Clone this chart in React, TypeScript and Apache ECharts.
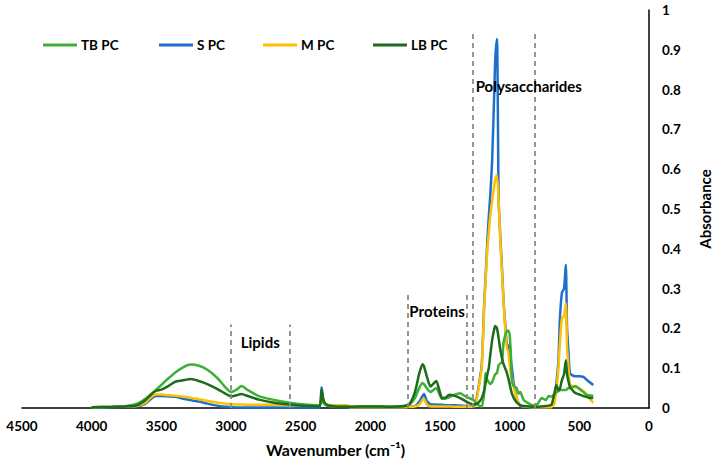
import React, { useEffect, useRef } from "react";
import * as echarts from "echarts";

const wavenumbers = [
  4000, 3850, 3750, 3680, 3620, 3570, 3540, 3500, 3450, 3400, 3350, 3290, 3230, 3170, 3100, 3040, 3000, 2960,
  2925, 2880, 2800, 2700, 2580, 2450, 2365, 2350, 2335, 2310, 2250, 2165, 2150, 2000, 1850, 1760, 1720, 1680,
  1650, 1626, 1615, 1595, 1569, 1545, 1526, 1505, 1485, 1460, 1434, 1400, 1355, 1320, 1290, 1260, 1240, 1220,
  1200, 1182, 1174, 1160, 1150, 1140, 1126, 1110, 1103, 1091, 1079, 1067, 1055, 1044, 1030, 1020, 1010, 1000,
  991, 984, 970, 950, 936, 924, 900, 865, 830, 800, 770, 740, 720, 700, 680, 665, 650, 640, 625, 610, 597, 588,
  580, 568, 550, 530, 500, 470, 450, 430, 400,
];

const tbPC = [
  0.002, 0.003, 0.005, 0.01, 0.022, 0.036, 0.045, 0.058, 0.074, 0.089, 0.101, 0.109, 0.106, 0.096, 0.076, 0.052,
  0.04, 0.046, 0.055, 0.045, 0.03, 0.021, 0.013, 0.008, 0.006, 0.022, 0.012, 0.006, 0.004, 0.003, 0.003, 0.004,
  0.003, 0.004, 0.008, 0.025, 0.05, 0.063, 0.06, 0.05, 0.04, 0.046, 0.05, 0.035, 0.023, 0.024, 0.027, 0.033,
  0.037, 0.03, 0.025, 0.02, 0.012, 0.006, 0.004, 0.04, 0.088, 0.07, 0.065, 0.06, 0.065, 0.08, 0.085, 0.088,
  0.108, 0.112, 0.115, 0.164, 0.185, 0.193, 0.195, 0.185, 0.132, 0.068, 0.055, 0.05, 0.036, 0.04, 0.02, 0.012,
  0.006, 0.01, 0.025, 0.02, 0.03, 0.028, 0.035, 0.04, 0.042, 0.045, 0.045, 0.045, 0.045, 0.047, 0.05, 0.05,
  0.052, 0.055, 0.048, 0.04, 0.033, 0.032, 0.03,
];

const sPC = [
  0.0, 0.002, 0.003, 0.004, 0.01, 0.024, 0.03, 0.03, 0.029, 0.028, 0.024, 0.02, 0.016, 0.011, 0.006, 0.003,
  0.002, 0.001, 0.001, 0.001, 0.001, 0.001, 0.001, 0.001, 0.001, 0.052, 0.016, 0.006, 0.003, 0.002, 0.002, 0.002,
  0.002, 0.002, 0.003, 0.005, 0.015, 0.03, 0.035, 0.018, 0.01, 0.009, 0.009, 0.008, 0.008, 0.007, 0.007, 0.007,
  0.006, 0.005, 0.004, 0.004, 0.02, 0.06, 0.11, 0.27, 0.32, 0.42, 0.48, 0.53, 0.62, 0.8, 0.88, 0.927, 0.52,
  0.43, 0.35, 0.27, 0.2, 0.16, 0.145, 0.16, 0.12, 0.1, 0.06, 0.025, 0.012, 0.006, 0.003, 0.002, 0.002, 0.002,
  0.002, 0.002, 0.003, 0.005, 0.02, 0.06, 0.12, 0.22, 0.29, 0.3, 0.36, 0.2, 0.154, 0.088, 0.082, 0.08, 0.08,
  0.078, 0.072, 0.066, 0.058,
];

const mPC = [
  0.002, 0.003, 0.004, 0.005, 0.012, 0.028, 0.034, 0.034, 0.032, 0.031, 0.029, 0.026, 0.022, 0.018, 0.014, 0.011,
  0.01, 0.009, 0.009, 0.008, 0.008, 0.008, 0.007, 0.007, 0.007, 0.03, 0.012, 0.008, 0.007, 0.007, 0.002, 0.002,
  0.002, 0.002, 0.003, 0.004, 0.008, 0.02, 0.023, 0.008, 0.004, 0.004, 0.004, 0.004, 0.004, 0.004, 0.004, 0.003,
  0.003, 0.003, 0.003, 0.003, 0.018, 0.055, 0.105, 0.26, 0.31, 0.4, 0.44, 0.48, 0.52, 0.56, 0.575, 0.585, 0.52,
  0.42, 0.34, 0.27, 0.19, 0.15, 0.142, 0.11, 0.085, 0.075, 0.05, 0.025, 0.012, 0.007, 0.004, 0.003, 0.002, 0.002,
  0.002, 0.002, 0.002, 0.003, 0.01, 0.045, 0.1, 0.16, 0.226, 0.23, 0.263, 0.15, 0.113, 0.06, 0.055, 0.052, 0.05,
  0.042, 0.035, 0.025, 0.013,
];

const lbPC = [
  0.002, 0.003, 0.004, 0.006, 0.018, 0.035, 0.043, 0.046, 0.055, 0.066, 0.069, 0.073, 0.068, 0.06, 0.048, 0.036,
  0.029, 0.032, 0.035, 0.03, 0.021, 0.014, 0.009, 0.005, 0.004, 0.045, 0.018, 0.008, 0.004, 0.003, 0.003, 0.004,
  0.003, 0.005, 0.01, 0.04, 0.085, 0.11, 0.105, 0.08, 0.054, 0.062, 0.068, 0.045, 0.025, 0.026, 0.033, 0.031,
  0.025, 0.018, 0.012, 0.009, 0.01, 0.015, 0.025, 0.045, 0.06, 0.085, 0.1, 0.13, 0.17, 0.2, 0.206, 0.2, 0.175,
  0.147, 0.125, 0.11, 0.098, 0.088, 0.075, 0.06, 0.045, 0.036, 0.025, 0.014, 0.01, 0.007, 0.005, 0.004, 0.003,
  0.003, 0.004, 0.005, 0.006, 0.008, 0.035, 0.058, 0.045, 0.048, 0.07, 0.085, 0.12, 0.085, 0.07, 0.053, 0.045,
  0.038, 0.034, 0.03, 0.028, 0.026, 0.025,
];

const xTicks = { min: 0, max: 4500, interval: 500 };
const yTicks = { min: 0, max: 1, interval: 0.1 };

const regionBounds = [
  { name: "Lipids", from: 3000, to: 2580, top: 0.21, labelX: 2790, labelY: 0.166 },
  { name: "Proteins", from: 1733, to: 1305, top: 0.29, labelX: 1521, labelY: 0.244 },
  { name: "Polysaccharides", from: 1265, to: 820, top: 0.95, labelX: 863, labelY: 0.81 },
];

const FONT = "Lato, 'Open Sans', 'DejaVu Sans', sans-serif";

const COLORS = {
  tb: "#3cb034",
  s: "#1e6fcc",
  m: "#ffc000",
  lb: "#1d6b1d",
};

function pairs(vals: number[]) {
  return wavenumbers.map((w, i) => [w, vals[i]]);
}

export default function App() {
  const ref = useRef<HTMLDivElement>(null);

  useEffect(() => {
    document.body.style.margin = "0";
    if (!ref.current) return;
    const chart = echarts.init(ref.current, undefined, { renderer: "svg" });

    const lineSeries = (name: string, data: number[], color: string) => ({
      name,
      type: "line",
      data: pairs(data),
      showSymbol: false,
      symbol: "none",
      smooth: 0.2,
      lineStyle: { color, width: 2.5 },
      itemStyle: { color },
      z: 3,
    });

    const markLineData: any[] = [];
    regionBounds.forEach((r) => {
      markLineData.push([{ coord: [r.from, 0] }, { coord: [r.from, r.top] }]);
      markLineData.push([{ coord: [r.to, 0] }, { coord: [r.to, r.top] }]);
    });

    const markPointData = regionBounds.map((r) => ({
      coord: [r.labelX, r.labelY],
      symbol: "rect",
      symbolSize: [1, 1],
      itemStyle: { color: "rgba(0,0,0,0)" },
      label: {
        show: true,
        position: "inside",
        formatter: r.name,
        color: "#000",
        fontFamily: FONT,
        fontWeight: "bold",
        fontSize: 15,
      },
    }));

    const legendItem = (name: string, left: number) => ({
      left,
      top: 33,
      data: [name],
      icon: "rect",
      itemWidth: 34,
      itemHeight: 3,
      itemGap: 0,
      textStyle: { fontFamily: FONT, fontWeight: "bold", fontSize: 13.5, color: "#000", padding: [0, 0, 0, -1] },
      selectedMode: false,
    });

    chart.setOption({
      animation: false,
      backgroundColor: "#fff",
      textStyle: { fontFamily: FONT },
      grid: { left: 22, right: 67, top: 10, bottom: 57, containLabel: false },
      legend: [
        legendItem("TB PC", 38),
        legendItem("S PC", 154),
        legendItem("M PC", 258),
        legendItem("LB PC", 368),
      ],
      xAxis: {
        type: "value",
        inverse: true,
        min: xTicks.min,
        max: xTicks.max,
        interval: xTicks.interval,
        axisLine: { show: true, lineStyle: { color: "#000", width: 1.5 } },
        axisTick: { show: false },
        splitLine: { show: false },
        axisLabel: {
          color: "#000",
          fontFamily: FONT,
          fontWeight: "bold",
          fontSize: 13.5,
          margin: 11,
          formatter: (v: number) => String(v),
        },
        name: "Wavenumber (cm⁻¹)",
        nameLocation: "middle",
        nameGap: 33,
        nameTextStyle: { color: "#000", fontFamily: FONT, fontWeight: "bold", fontSize: 16 },
      },
      yAxis: {
        type: "value",
        position: "right",
        min: yTicks.min,
        max: yTicks.max,
        interval: yTicks.interval,
        axisLine: { show: true, onZero: false, lineStyle: { color: "#000", width: 1.5 } },
        axisTick: { show: false },
        splitLine: { show: false },
        axisLabel: { color: "#000", fontFamily: FONT, fontWeight: "bold", fontSize: 13.5, margin: 13 },
        name: "Absorbance",
        nameLocation: "middle",
        nameRotate: 90,
        nameGap: 48,
        nameTextStyle: { color: "#000", fontFamily: FONT, fontWeight: "bold", fontSize: 15 },
      },
      series: [
        {
          name: "regions",
          type: "line",
          data: [],
          z: 1,
          silent: true,
          markLine: {
            silent: true,
            symbol: ["none", "none"],
            label: { show: false },
            lineStyle: { color: "#8a8a8a", type: [5, 4], width: 1.8 },
            data: markLineData,
          },
          markPoint: {
            silent: true,
            data: markPointData,
          },
        },
        lineSeries("S PC", sPC, COLORS.s),
        lineSeries("M PC", mPC, COLORS.m),
        lineSeries("TB PC", tbPC, COLORS.tb),
        lineSeries("LB PC", lbPC, COLORS.lb),
      ],
    });

    return () => chart.dispose();
  }, []);

  return <div ref={ref} style={{ width: 720, height: 465 }} />;
}
